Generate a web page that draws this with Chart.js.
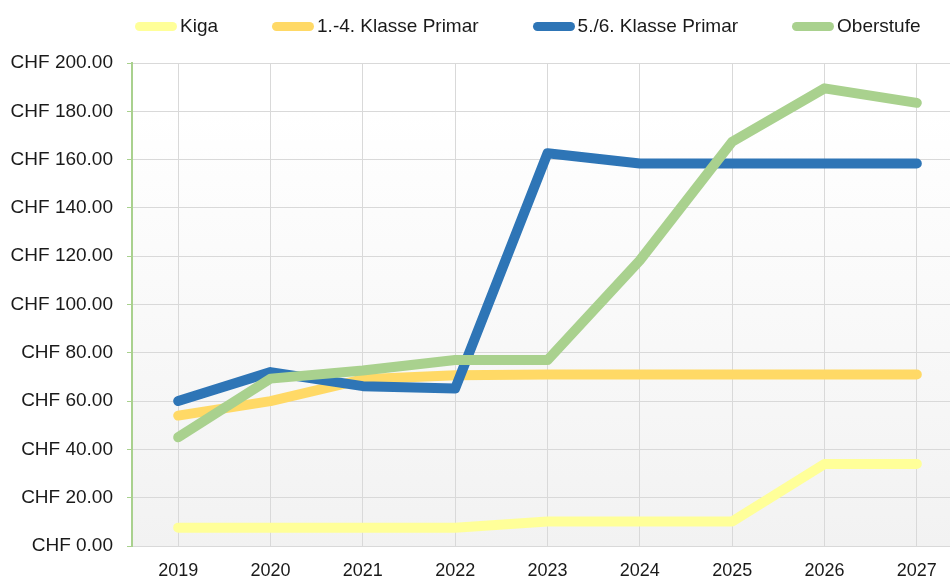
<!DOCTYPE html>
<html>
<head>
<meta charset="utf-8">
<script src="https://cdn.jsdelivr.net/npm/chart.js@4"></script>
<style>
  body { margin: 0; overflow: hidden; background: #fff; font-family: "Liberation Sans", Arial, sans-serif; }
  .wrap { position: relative; width: 966px; height: 578px; }
  .legend { position: absolute; top: 15px; left: 135px; display: flex; align-items: center; font-size: 19px; color: #1a1a1a; white-space: nowrap; }
  .legend .item { display: flex; align-items: center; margin-right: 54px; }
  .legend .line { display: inline-block; width: 42px; height: 9px; border-radius: 5px; margin-right: 3px; }
</style>
</head>
<body>
<div class="wrap">
  <canvas id="myChart" width="966" height="578"></canvas>
  <div class="legend" id="legend"></div>
</div>
<script>
// data
const years = ["2019", "2020", "2021", "2022", "2023", "2024", "2025", "2026", "2027"];
const names = ["Kiga", "1.-4. Klasse Primar", "5./6. Klasse Primar", "Oberstufe"];
const kiga = [7.6, 7.6, 7.6, 7.6, 10.1, 10.1, 10.1, 34, 34];
const primar14 = [54, 60, 69, 70.7, 71, 71, 71, 71, 71];
const primar56 = [60, 72, 66.2, 65.2, 162.6, 158.4, 158.4, 158.4, 158.4];
const oberstufe = [45, 69.3, 72.7, 77, 77, 118.3, 167.4, 189.5, 183.5];
const yTicks = [0, 20, 40, 60, 80, 100, 120, 140, 160, 180, 200];

const colors = ["#FFFF99", "#FFD966", "#2E75B6", "#A9D18E"];
const series = [kiga, primar14, primar56, oberstufe];

// html legend
const legendBox = document.getElementById("legend");
names.forEach((n, i) => {
  let item = document.createElement("div");
  item.className = "item";
  item.innerHTML = '<span class="line" style="background:' + colors[i] + '"></span><span>' + n + '</span>';
  legendBox.appendChild(item);
});

// plot background
const bgPlugin = {
  id: "bg",
  beforeDraw(chart) {
    const { ctx, chartArea, scales } = chart;
    const y0 = scales.y.getPixelForValue(180);
    const g = ctx.createLinearGradient(0, y0, 0, chartArea.bottom);
    g.addColorStop(0, "#ffffff");
    g.addColorStop(1, "#f2f2f2");
    ctx.save();
    ctx.fillStyle = "#ffffff";
    ctx.fillRect(chartArea.left, chartArea.top, chartArea.width, y0 - chartArea.top);
    ctx.fillStyle = g;
    ctx.fillRect(chartArea.left, y0, chartArea.width, chartArea.bottom - y0);
    ctx.restore();
  }
};

const ctx = document.getElementById("myChart");

new Chart(ctx, {
  type: "line",
  data: {
    labels: years,
    datasets: series.map((d, i) => ({
      label: names[i],
      data: d,
      borderColor: colors[i],
      backgroundColor: colors[i],
      borderWidth: 10,
      borderCapStyle: "round",
      borderJoinStyle: "round",
      pointRadius: 0,
      tension: 0,
      order: 3 - i
    }))
  },
  options: {
    responsive: false,
    animation: false,
    layout: { padding: { top: 63, left: 10, right: 3, bottom: 0 } },
    plugins: {
      legend: { display: false },
      tooltip: { enabled: false }
    },
    scales: {
      x: {
        offset: true,
        afterFit: (axis) => { axis.height = 32; },
        grid: { offset: false, color: "#d9d9d9", drawTicks: false },
        border: { color: "#d9d9d9" },
        ticks: {
          color: "#1a1a1a",
          padding: 18,
          maxRotation: 0,
          font: { family: "Liberation Sans", size: 18, lineHeight: 0.8 }
        }
      },
      y: {
        min: 0,
        max: 200,
        afterBuildTicks: (axis) => { axis.ticks = yTicks.map(v => ({ value: v })); },
        afterFit: (axis) => { axis.width = 122; },
        grid: { color: "#d9d9d9", tickColor: "#a9d18e", tickLength: 5 },
        border: { color: "#a9d18e", width: 2 },
        ticks: {
          color: "#1a1a1a",
          padding: 14,
          font: { family: "Liberation Sans", size: 19 },
          callback: (v) => "CHF " + Number(v).toFixed(2)
        }
      }
    }
  },
  plugins: [bgPlugin]
});
</script>
</body>
</html>
